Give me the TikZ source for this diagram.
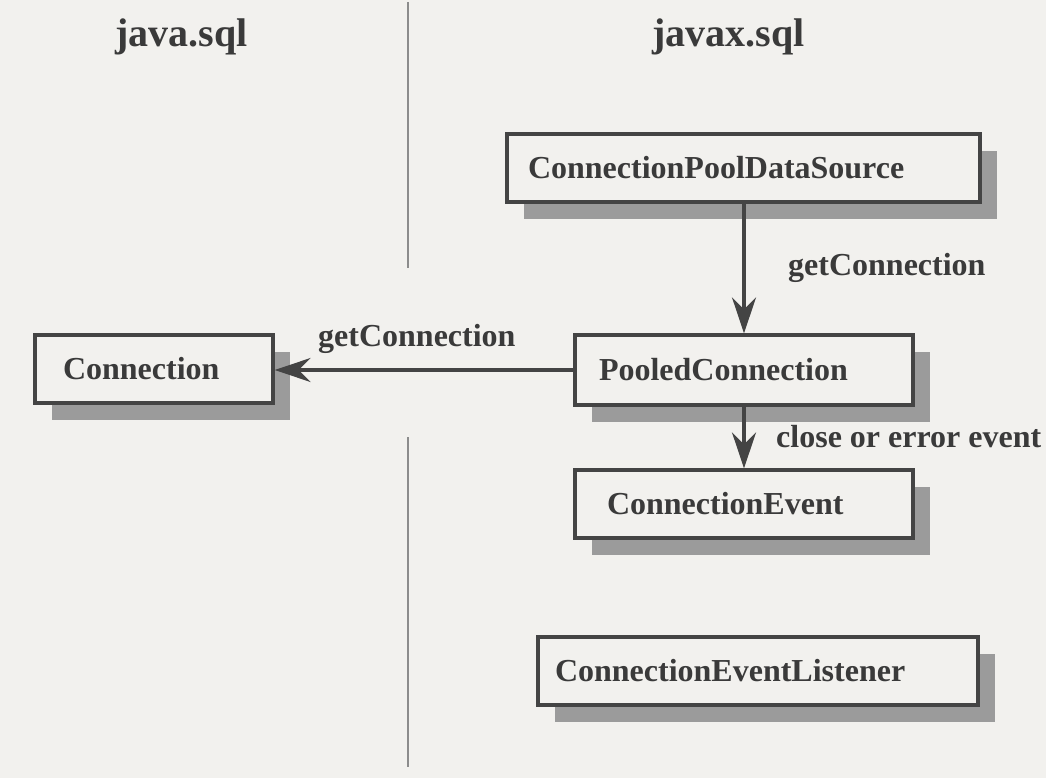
\documentclass[tikz,border=0pt]{standalone}
\usepackage{fontspec}
\setmainfont{Liberation Serif}
\usetikzlibrary{arrows.meta,shadows}
\definecolor{paper}{RGB}{242,241,238}
\definecolor{ink}{RGB}{58,58,58}
\definecolor{frame}{RGB}{68,68,68}
\definecolor{shade}{RGB}{155,155,155}
\definecolor{rulec}{RGB}{140,140,140}
\begin{document}
\begin{tikzpicture}[x=1pt,y=-1pt,
  box/.style={draw=frame, line width=3.2pt, fill=paper, inner ysep=0pt,
    align=left, text=ink, font=\bfseries\fontsize{32}{38}\selectfont,
    drop shadow={shadow xshift=17pt, shadow yshift=-17pt, fill=shade, opacity=1}},
  lbl/.style={text=ink, inner sep=0pt, anchor=base west, font=\bfseries\fontsize{32}{38}\selectfont},
  head/.style={text=ink, inner sep=0pt, anchor=base west, font=\bfseries\fontsize{40}{48}\selectfont},
  conn/.style={draw=frame, line width=3.2pt, -{Stealth[length=36pt,width=24pt,inset=12pt]}},
  divider/.style={draw=rulec, line width=2.6pt}]
\useasboundingbox[fill=paper] (0,0) rectangle (1046,778);
% divider
\coordinate (d1) at (408,2);
\coordinate (d2) at (408,268);
\coordinate (d3) at (408,437);
\coordinate (d4) at (408,767);
\draw[divider] (d1) -- (d2);
\draw[divider] (d3) -- (d4);
% headers
\node[head] (hjava) at (115,47) {java.sql};
\node[head] (hjavax) at (652,47) {javax.sql};
% boxes
\node[box, text width=431pt, inner xsep=21pt, minimum height=68pt] (cpds) at (743.5,168) {ConnectionPoolDataSource};
\node[box, text width=290pt, inner xsep=24pt, minimum height=70pt] (pooled) at (744,370) {PooledConnection};
\node[box, text width=182pt, inner xsep=28pt, minimum height=68pt] (conn) at (154,369) {Connection};
\node[box, text width=274pt, inner xsep=32pt, minimum height=68pt] (event) at (744,504) {ConnectionEvent};
\node[box, text width=406pt, inner xsep=17pt, minimum height=68pt] (listener) at (758,671) {ConnectionEventListener};
% connectors
\draw[conn] (pooled.north |- cpds.south) -- (pooled.north);
\draw[conn] (pooled.west) -- (conn.east |- pooled.west);
\draw[conn] (pooled.south) -- (event.north);
% labels
\node[lbl] (l1) at (788,275) {getConnection};
\node[lbl] (l2) at (318,346) {getConnection};
\node[lbl] (l3) at (776,447) {close or error event};
\end{tikzpicture}
\end{document}
